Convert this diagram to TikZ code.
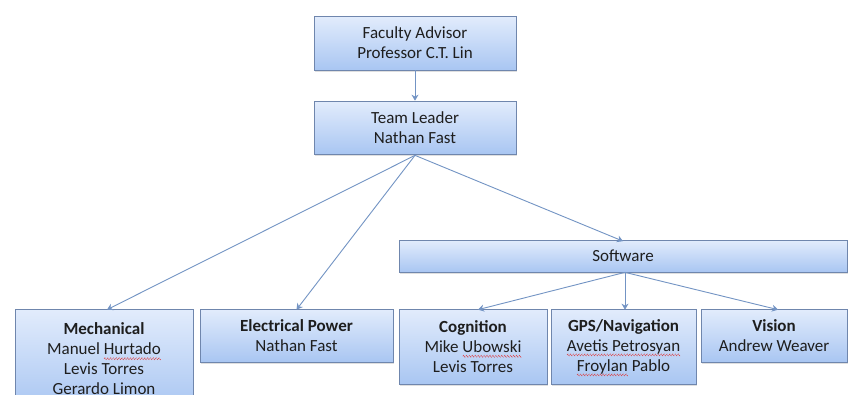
\documentclass[tikz,border=0pt]{standalone}
\usepackage{fontspec}
\setmainfont{Carlito}
\usepackage{graphicx}
\usetikzlibrary{shadows,arrows.meta}
\definecolor{bxtop}{HTML}{E2ECFC}
\definecolor{bxbot}{HTML}{A9C6F2}
\definecolor{bxline}{HTML}{6F86AD}
\definecolor{arrowc}{HTML}{7394C4}
\definecolor{txt}{HTML}{1E1E1E}
\definecolor{sqred}{HTML}{E03030}
\newcommand\zzunit{\hbox{\rotatebox{45}{\rule{1.6pt}{0.5pt}}\kern-0.15pt\rotatebox{-45}{\rule{1.6pt}{0.5pt}}}}
\newcommand\sqw[1]{\setbox0=\hbox{#1}\leavevmode\rlap{\copy0}\raisebox{-4pt}[0pt][0pt]{\hbox to \wd0{\color{sqred}\xleaders\zzunit\hfil}}}
\begin{document}
\begin{tikzpicture}[x=1pt,y=-1pt,
  box/.style={draw=bxline, line width=0.7pt, top color=bxtop, bottom color=bxbot,
    drop shadow={opacity=0.25, shadow xshift=1.2pt, shadow yshift=-1.8pt},
    font=\fontsize{17}{20}\selectfont, align=center, inner sep=0pt, text=txt},
  conn/.style={draw=arrowc, line width=0.9pt, -{Stealth[length=6pt,width=7pt]}}]
\clip (0,0) rectangle (855,394);
\fill[white] (0,0) rectangle (855,394);
\node[box, minimum width=202pt, minimum height=54pt] (fa) at (415,43) {Faculty Advisor\\Professor C.T. Lin};
\node[box, minimum width=202pt, minimum height=53pt] (tl) at (415,127.5) {Team Leader\\Nathan Fast};
\node[box, minimum width=448pt, minimum height=32pt] (sw) at (623,256) {Software};
\node[box, minimum width=178pt, minimum height=100pt] (me) at (104,359) {\textbf{Mechanical}\\Manuel \sqw{Hurtado}\\Levis Torres\\Gerardo Limon};
\node[box, minimum width=193pt, minimum height=53pt] (el) at (296.5,335.5) {\textbf{Electrical Power}\\Nathan Fast};
\node[box, minimum width=148pt, minimum height=75pt] (co) at (473,346.5) {\textbf{Cognition}\\Mike \sqw{Ubowski}\\Levis Torres};
\node[box, minimum width=145pt, minimum height=75pt] (gps) at (623.5,346.5) {\textbf{GPS/Navigation}\\\sqw{Avetis Petrosyan}\\\sqw{Froylan} Pablo};
\node[box, minimum width=146pt, minimum height=53pt] (vi) at (774,335.5) {\textbf{Vision}\\Andrew Weaver};
\draw[conn] (fa.south) -- (tl.north);
\coordinate (tlb) at ([yshift=-1pt]tl.south);
\draw[conn] (tlb) -- ([xshift=3pt,yshift=-1pt]me.north);
\draw[conn] (tlb) -- ([yshift=-1pt]el.north);
\draw[conn] (tlb) -- ([yshift=-1.5pt]sw.north);
\coordinate (swb) at ([xshift=2pt]sw.south);
\draw[conn] (swb) -- ([xshift=5pt,yshift=-1pt]co.north);
\draw[conn] (swb) -- ([xshift=1.5pt,yshift=-1pt]gps.north);
\draw[conn] (swb) -- ([xshift=4pt,yshift=-1pt]vi.north);
\end{tikzpicture}
\end{document}
